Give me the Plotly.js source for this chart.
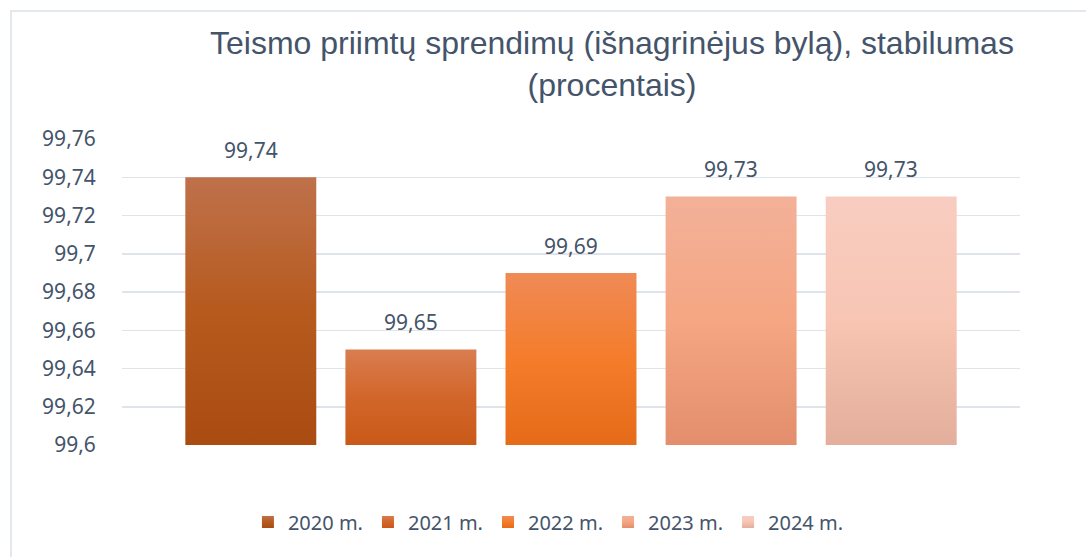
<!DOCTYPE html>
<html>
<head>
<meta charset="utf-8">
<script src="https://cdn.plot.ly/plotly-3.0.1.min.js"></script>
<style>
  html, body { margin: 0; padding: 0; background: #ffffff; }
  #chart { width: 1086px; height: 557px; position: absolute; left: 0; top: 0; }
  #frame { position: absolute; left: 10px; top: 10px; width: 1200px; height: 700px;
           border: 2px solid #e3e7ee; pointer-events: none; box-sizing: border-box; }
</style>
</head>
<body>
<div id="chart"></div>
<div id="frame"></div>
<script>
// ---- data ----
const years = ['2020 m.', '2021 m.', '2022 m.', '2023 m.', '2024 m.'];
const values = [99.74, 99.65, 99.69, 99.73, 99.73];
const axisMin = 99.6;
const axisMax = 99.76;
const tickVals = [99.6, 99.62, 99.64, 99.66, 99.68, 99.7, 99.72, 99.74, 99.76];
const tickText = ['99,6', '99,62', '99,64', '99,66', '99,68', '99,7', '99,72', '99,74', '99,76'];
const titleText = 'Teismo priimtų sprendimų (išnagrinėjus bylą), stabilumas<br>(procentais)';

// ---- styles ----
const baseColors = ['#b65a1e', '#d2662a', '#f47c2b', '#f4a682', '#f7c6b5'];
const gradients = [
  ['#bf714b', '#b65a1e', '#aa4c12'],
  ['#d97d51', '#d2662a', '#c95918'],
  ['#f08a56', '#f47c2b', '#e56b18'],
  ['#f3b199', '#f5a682', '#e38e6c'],
  ['#f8cdc1', '#f8c5b3', '#e3ae9c']
];
const textColor = '#44546a';
const fmt = v => String(v).replace('.', ',');

// bars start at the axis minimum (as in the original chart)
const traces = years.map((y, i) => ({
  type: 'bar',
  name: y,
  x: [y],
  base: [axisMin],
  y: [values[i] - axisMin],
  marker: { color: baseColors[i], line: { width: 0 } },
  hoverinfo: 'skip'
}));

const annotations = years.map((y, i) => ({
  x: y, y: values[i], xref: 'x', yref: 'y',
  text: fmt(values[i]), showarrow: false,
  yanchor: 'bottom', yshift: 11,
  font: { family: 'Noto Sans, Open Sans, sans-serif', size: 21, color: textColor }
}));

const layout = {
  width: 1086, height: 557,
  paper_bgcolor: '#ffffff', plot_bgcolor: '#ffffff',
  margin: { l: 122, r: 66, t: 139, b: 112 },
  barmode: 'overlay',
  bargap: 0.182,
  title: {
    text: titleText,
    font: { family: 'Liberation Sans, Arial, sans-serif', size: 32, color: textColor },
    x: 0.5635, xref: 'container', xanchor: 'center',
    y: 0.903, yref: 'container', yanchor: 'top'
  },
  xaxis: {
    type: 'category', categoryorder: 'array', categoryarray: years,
    range: [-0.8045, 4.8045],
    showticklabels: false, showgrid: false, zeroline: false, showline: false, ticks: ''
  },
  yaxis: {
    range: [axisMin, axisMax],
    tickvals: tickVals, ticktext: tickText,
    showgrid: true, gridcolor: '#dfe3ea', gridwidth: 1.5,
    zeroline: false, showline: false,
    ticks: 'outside', ticklen: 21, tickcolor: 'rgba(0,0,0,0)',
    tickfont: { family: 'Noto Sans, Open Sans, sans-serif', size: 21, color: textColor }
  },
  showlegend: true,
  legend: {
    orientation: 'h', x: 0.505, xref: 'container', xanchor: 'center',
    y: 0.063, yref: 'container', yanchor: 'middle',
    font: { family: 'Noto Sans, Open Sans, sans-serif', size: 20, color: textColor },
    traceorder: 'normal', itemclick: false, itemdoubleclick: false
  },
  annotations: annotations
};

function applyGradients(gd) {
  const svgNS = 'http://www.w3.org/2000/svg';
  const svg = gd.querySelector('.main-svg');
  const defs = svg.querySelector('defs');
  gradients.forEach((stops, i) => {
    const g = document.createElementNS(svgNS, 'linearGradient');
    g.setAttribute('id', 'bargrad' + i);
    g.setAttribute('gradientUnits', 'objectBoundingBox');
    g.setAttribute('x1', '0%'); g.setAttribute('y1', '0%');
    g.setAttribute('x2', '0%'); g.setAttribute('y2', '100%');
    ['0%', '50%', '100%'].forEach((off, k) => {
      const s = document.createElementNS(svgNS, 'stop');
      s.setAttribute('offset', off);
      s.setAttribute('stop-color', stops[k]);
      g.appendChild(s);
    });
    defs.appendChild(g);
  });
  gd.querySelectorAll('.barlayer .trace').forEach((t, i) => {
    t.querySelectorAll('path').forEach(p => p.style.setProperty('fill', 'url(#bargrad' + i + ')'));
  });
  gd.querySelectorAll('.legend .traces').forEach((t, i) => {
    t.querySelectorAll('.legendpoints path').forEach(p => p.style.setProperty('fill', 'url(#bargrad' + i + ')'));
  });
}

Plotly.newPlot('chart', traces, layout, { displayModeBar: false, staticPlot: true }).then(applyGradients);
</script>
</body>
</html>
